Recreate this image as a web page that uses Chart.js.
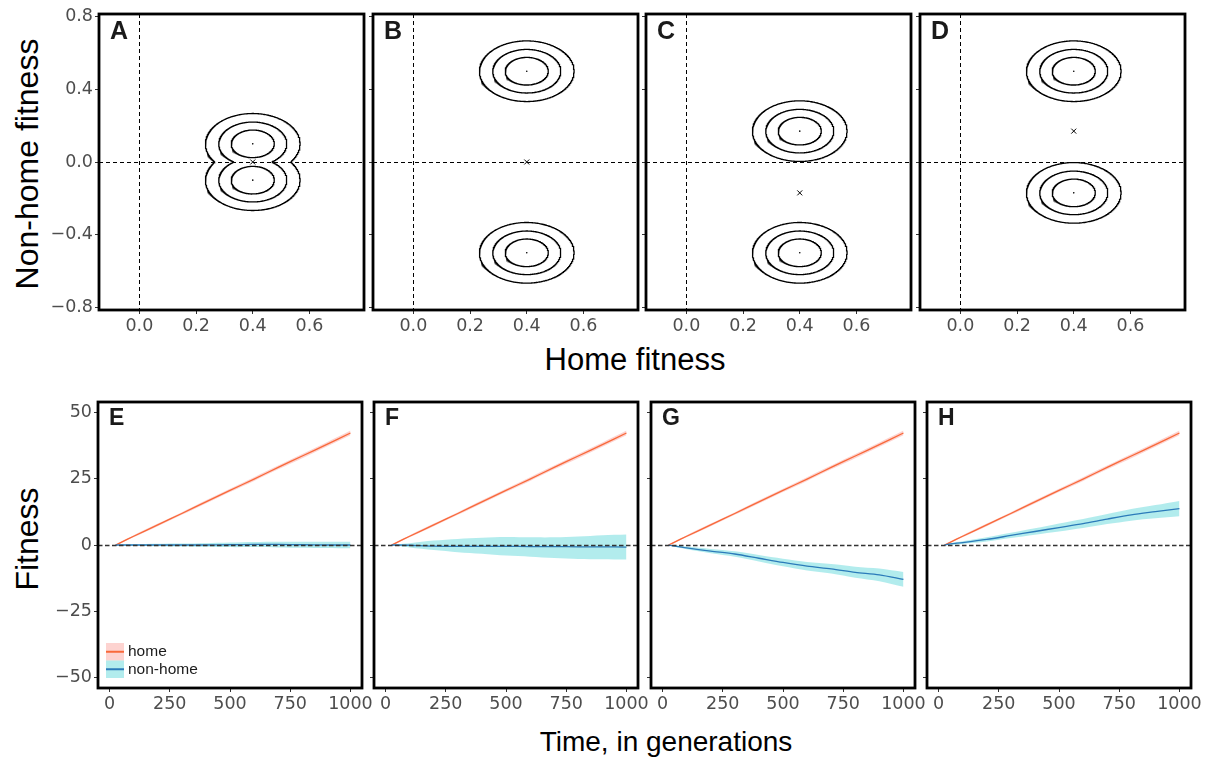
<!DOCTYPE html>
<html>
<head>
<meta charset="utf-8">
<script src="https://cdn.jsdelivr.net/npm/chart.js@4.4.1/dist/chart.umd.min.js"></script>
<style>
  body { margin: 0; background: #fff; width: 1205px; height: 761px; position: relative; overflow: hidden; font-family: "Liberation Sans", Arial, sans-serif; }
  canvas { position: absolute; }
  .title { position: absolute; color: #000; white-space: nowrap; transform: translate(-50%, -50%); }
  .rot { transform: translate(-50%, -50%) rotate(-90deg); }
</style>
</head>
<body>
<div class="title rot" style="left:27px;top:164px;font-size:32px">Non-home fitness</div>
<div class="title" style="left:635px;top:360px;font-size:31px">Home fitness</div>
<div class="title rot" style="left:27px;top:539px;font-size:32px">Fitness</div>
<div class="title" style="left:666px;top:742px;font-size:28px">Time, in generations</div>
<script>
// ---- top row: fitness landscapes ----
const topLetters = ["A", "B", "C", "D"];
const peakX = [0.4, 0.4, 0.4, 0.4];
const peakY = [[0.1, -0.1], [0.5, -0.5], [0.17, -0.5], [0.5, -0.17]];
const saddleY = [0, 0, -0.17, 0.17];
const contourRadius = [0.076, 0.12, 0.167];
const homeTicks = [0, 0.2, 0.4, 0.6];
const nonHomeTicks = [-0.8, -0.4, 0, 0.4, 0.8];

// ---- bottom row: fitness over time ----
const bottomLetters = ["E", "F", "G", "H"];
const generations = [25, 50, 100, 200, 300, 400, 500, 600, 700, 800, 900, 1000];
const homeMean = [0, 1.1, 3.3, 7.6, 11.9, 16.3, 20.6, 24.9, 29.3, 33.6, 37.9, 42.3];
const homeLo = [-0.2, 0.8, 2.9, 7.1, 11.4, 15.7, 20.0, 24.2, 28.6, 32.8, 37.1, 41.4];
const homeHi = [0.2, 1.4, 3.7, 8.1, 12.4, 16.9, 21.2, 25.6, 30.0, 34.4, 38.7, 43.2];
const nonHomeMean = [
  [0, 0, 0, 0, 0, 0, 0.1, 0.2, 0.2, 0.1, 0, 0],
  [0, 0, -0.1, -0.4, -0.5, -0.5, -0.5, -0.6, -0.6, -0.7, -0.7, -0.8],
  [0, -0.4, -1.1, -2.3, -3.4, -5.0, -6.6, -8.0, -9.0, -10.3, -11.3, -13.0],
  [0, 0.4, 0.9, 2.1, 3.6, 5.1, 6.6, 8.1, 9.8, 11.4, 12.6, 13.75]
];
const nonHomeLo = [
  [0, -0.2, -0.3, -0.5, -0.6, -0.7, -0.8, -0.8, -0.9, -1.0, -1.1, -1.2],
  [0, -0.4, -0.9, -1.9, -2.7, -3.3, -4.0, -4.4, -4.9, -5.3, -5.4, -5.5],
  [0, -0.7, -1.6, -3.1, -4.4, -6.2, -8.0, -9.6, -10.8, -12.4, -13.7, -15.8],
  [0, 0.1, 0.4, 1.3, 2.6, 3.9, 5.1, 6.4, 7.9, 9.2, 10.1, 10.85]
];
const nonHomeHi = [
  [0, 0.2, 0.3, 0.5, 0.6, 0.7, 0.9, 1.1, 1.2, 1.2, 1.2, 1.2],
  [0, 0.3, 0.7, 1.7, 2.3, 2.7, 3.0, 2.9, 2.9, 3.2, 3.7, 4.0],
  [0, -0.1, -0.6, -1.5, -2.4, -3.8, -5.2, -6.4, -7.2, -8.2, -8.9, -10.2],
  [0, 0.7, 1.4, 2.9, 4.6, 6.3, 8.1, 9.8, 11.7, 13.6, 15.1, 16.65]
];
const timeTicks = [0, 250, 500, 750, 1000];
const fitnessTicks = [-50, -25, 0, 25, 50];

const HOME_LINE = "#F8693A";
const HOME_BAND = "rgba(248,118,109,0.32)";
const NONHOME_LINE = "#2B7BBA";
const NONHOME_BAND = "rgba(0,191,196,0.3)";
const TICK_FONT = { family: "DejaVu Sans", size: 17.5 };

const topAreas = [98.5, 372.5, 646, 919.5].map(l => ({ left: l, top: 13.5, width: 264.5, height: 295.5 }));
const bottomAreas = [98, 374, 650.5, 926.5].map(l => ({ left: l, top: 401.5, width: 264, height: 285.5 }));

const PAD_L = 60, PAD_T = 20, PAD_R = 30, PAD_B = 40;

function minus(s) { return s.replace("-", "\u2212"); }

// panel frame, zero lines, letter and (optionally) legend
const panelDecor = {
  id: "panelDecor",
  afterDatasetsDraw(chart, args, o) {
    const { ctx, chartArea: a, scales } = chart;
    ctx.save();
    ctx.setLineDash(o.dash);
    ctx.strokeStyle = o.dashColor;
    ctx.lineWidth = o.dashWidth;
    ctx.beginPath();
    if (o.vertical) {
      const x = Math.round(scales.x.getPixelForValue(0)) + 0.5;
      ctx.moveTo(x, a.top); ctx.lineTo(x, a.bottom);
    }
    const y = Math.round(scales.y.getPixelForValue(0)) + 0.5;
    ctx.moveTo(a.left, y); ctx.lineTo(a.right, y);
    ctx.stroke();
    ctx.setLineDash([]);

    if (o.legend) {
      const items = [
        { label: "home", band: HOME_BAND, line: HOME_LINE },
        { label: "non-home", band: NONHOME_BAND, line: NONHOME_LINE }
      ];
      items.forEach((it, i) => {
        const ky = a.bottom - 45 + i * 17.5;
        ctx.fillStyle = it.band;
        ctx.fillRect(a.left + 8, ky, 18, 17.5);
        ctx.strokeStyle = it.line;
        ctx.lineWidth = 2;
        ctx.beginPath();
        ctx.moveTo(a.left + 8, ky + 8.75); ctx.lineTo(a.left + 26, ky + 8.75);
        ctx.stroke();
        ctx.fillStyle = "#1a1a1a";
        ctx.font = '15.5px "Liberation Sans"';
        ctx.textBaseline = "middle";
        ctx.fillText(it.label, a.left + 30, ky + 9);
      });
    }

    ctx.lineWidth = 2.8;
    ctx.strokeStyle = "#000";
    ctx.strokeRect(a.left, a.top, a.width, a.height);
    ctx.font = "bold " + o.letterSize + 'px "Liberation Sans"';
    ctx.fillStyle = "#1a1a1a";
    ctx.textBaseline = "alphabetic";
    ctx.fillText(o.letter, a.left + 11, a.top + o.letterSize);
    ctx.restore();
  }
};

function place(area) {
  const c = document.createElement("canvas");
  c.width = Math.round(area.width + PAD_L + PAD_R);
  c.height = Math.round(area.height + PAD_T + PAD_B);
  c.style.left = (area.left - PAD_L) + "px";
  c.style.top = (area.top - PAD_T) + "px";
  document.body.appendChild(c);
  return c;
}

function axis(min, max, ticks, fmt, showLabels, isX) {
  return {
    type: "linear",
    min: min, max: max,
    afterBuildTicks: s => { s.ticks = ticks.map(v => ({ value: v })); },
    afterFit: s => {
      if (isX) s.height = PAD_B;
      else s.width = PAD_L;
    },
    border: { display: false },
    grid: { drawOnChartArea: false, drawTicks: true, tickLength: 4, color: "#333", lineWidth: 1 },
    ticks: {
      display: showLabels,
      autoSkip: false, maxRotation: 0, minRotation: 0,
      padding: 2,
      color: "#4d4d4d",
      font: TICK_FONT,
      callback: v => fmt(v)
    }
  };
}

function baseOptions() {
  return {
    responsive: false,
    animation: false,
    devicePixelRatio: 1,
    layout: { padding: { top: PAD_T, right: PAD_R, left: 0, bottom: 0 } },
    events: [],
    plugins: { legend: { display: false }, tooltip: { enabled: false } }
  };
}

// contour circle of one peak, skipping the part hidden inside the other peak's contour
function contourPoints(cx, cy, r, others) {
  const pts = [];
  const away = others.length ? Math.atan2(cy - others[0], 0) : 0;
  for (let d = 0; d <= 360; d += 0.5) {
    const t = away + Math.PI + d * Math.PI / 180;
    const x = cx + r * Math.cos(t);
    const y = cy + r * Math.sin(t);
    const hidden = others.some(oy => Math.hypot(x - cx, y - oy) < r);
    pts.push(hidden ? { x: x, y: null } : { x: x, y: y });
  }
  return pts;
}

topAreas.forEach((area, p) => {
  const datasets = [];
  peakY[p].forEach((cy, j) => {
    const others = peakY[p].filter((v, k) => k !== j);
    contourRadius.forEach(r => {
      datasets.push({
        data: contourPoints(peakX[p], cy, r, others),
        showLine: true, borderColor: "#000", borderWidth: 1.3,
        pointRadius: 0, spanGaps: false, tension: 0
      });
    });
  });
  datasets.push({
    data: peakY[p].map(y => ({ x: peakX[p], y: y })),
    pointRadius: 0.8, pointBackgroundColor: "#000", pointBorderWidth: 0, showLine: false
  });
  datasets.push({
    data: [{ x: peakX[p], y: saddleY[p] }],
    pointStyle: "crossRot", pointRadius: 3.5, pointBorderColor: "#000", pointBorderWidth: 1, showLine: false
  });

  const opts = baseOptions();
  opts.scales = {
    x: axis(-0.1425, 0.7925, homeTicks, v => v.toFixed(1), true, true),
    y: axis(-0.815, 0.815, nonHomeTicks, v => minus(v.toFixed(1)), p === 0, false)
  };
  opts.plugins.panelDecor = {
    letter: topLetters[p], letterSize: 25, vertical: true,
    dash: [4, 3], dashColor: "#000", dashWidth: 1, legend: false
  };
  new Chart(place(area), { type: "scatter", data: { datasets: datasets }, options: opts, plugins: [panelDecor] });
});

bottomAreas.forEach((area, p) => {
  const pts = arr => generations.map((g, i) => ({ x: g, y: arr[i] }));
  const line = (arr, color) => ({
    data: pts(arr), showLine: true, borderColor: color, borderWidth: 1.3,
    pointRadius: 0, fill: false, tension: 0.3
  });
  const edge = arr => ({
    data: pts(arr), showLine: true, borderWidth: 0, borderColor: "rgba(0,0,0,0)",
    pointRadius: 0, fill: false, tension: 0.3
  });
  const datasets = [
    line(nonHomeMean[p], NONHOME_LINE),
    line(homeMean, HOME_LINE),
    Object.assign(edge(nonHomeHi[p]), { fill: 3, backgroundColor: NONHOME_BAND }),
    edge(nonHomeLo[p]),
    Object.assign(edge(homeHi), { fill: 5, backgroundColor: HOME_BAND }),
    edge(homeLo)
  ];

  const opts = baseOptions();
  opts.scales = {
    x: axis(-48, 1048, timeTicks, v => String(v), true, true),
    y: axis(-54, 54, fitnessTicks, v => minus(String(v)), p === 0, false)
  };
  opts.plugins.panelDecor = {
    letter: bottomLetters[p], letterSize: 23, vertical: false,
    dash: [4.5, 2.5], dashColor: "#333", dashWidth: 1.5, legend: p === 0
  };
  new Chart(place(area), { type: "scatter", data: { datasets: datasets }, options: opts, plugins: [panelDecor] });
});
</script>
</body>
</html>
